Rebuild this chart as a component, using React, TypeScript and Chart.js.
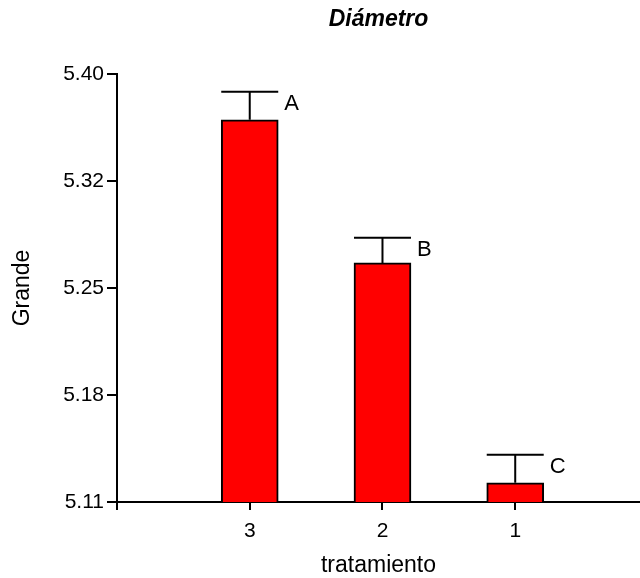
import React, { useEffect, useRef } from 'react';
import { Chart, registerables } from 'chart.js';

Chart.register(...registerables);

const categories = ['3', '2', '1'];
const categoryPositions = [1, 2, 3];
const means = [5.369, 5.272, 5.123];
const errors = [0.019, 0.017, 0.019];
const letters = ['A', 'B', 'C'];
const yTickValues = [5.11, 5.1825, 5.255, 5.3275, 5.4];
const yTickLabels = ['5.11', '5.18', '5.25', '5.32', '5.40'];
const titleText = 'Diámetro';
const yTitle = 'Grande';
const xTitle = 'tratamiento';

const FAMILY = '"Liberation Sans", Arial, Helvetica, sans-serif';

const errorBarPlugin = {
  id: 'errorBars',
  afterDatasetsDraw(chart: any) {
    const meta = chart.getDatasetMeta(0);
    const yScale = chart.scales.y;
    const ctx = chart.ctx;
    ctx.save();
    ctx.strokeStyle = '#000';
    ctx.lineWidth = 2;
    meta.data.forEach((el: any, i: number) => {
      const { x, y, width } = el.getProps(['x', 'y', 'width'], true);
      const capY = yScale.getPixelForValue(means[i] + errors[i]);
      ctx.beginPath();
      ctx.moveTo(x, y);
      ctx.lineTo(x, capY);
      ctx.moveTo(x - width / 2, capY);
      ctx.lineTo(x + width / 2, capY);
      ctx.stroke();
      ctx.fillStyle = '#000';
      ctx.font = '22px ' + FAMILY;
      ctx.textAlign = 'left';
      ctx.textBaseline = 'middle';
      ctx.fillText(letters[i], x + width / 2 + 6, capY + 12);
    });
    ctx.restore();
  },
};

export default function App() {
  const canvasRef = useRef<HTMLCanvasElement | null>(null);

  useEffect(() => {
    if (!canvasRef.current) return;
    const tickFont = { family: FAMILY, size: 21 };
    const axisTitleFont = { family: FAMILY, size: 23 };
    const chart = new Chart(canvasRef.current, {
      type: 'bar',
      data: {
        datasets: [
          {
            data: categoryPositions.map((p, i) => ({ x: p, y: means[i] })),
            backgroundColor: '#ff0000',
            borderColor: '#000000',
            borderWidth: 2,
            borderSkipped: false,
            barThickness: 57,
          },
        ],
      },
      options: {
        responsive: false,
        animation: false,
        layout: { padding: 0 },
        plugins: {
          legend: { display: false },
          tooltip: { enabled: false },
          title: {
            display: true,
            text: titleText,
            fullSize: false,
            color: '#000',
            font: { family: FAMILY, size: 23, weight: 'bold', style: 'italic' },
            padding: { top: 6, bottom: 40.4 },
          },
        },
        scales: {
          x: {
            type: 'linear',
            min: 0,
            max: 3.94,
            offset: false,
            afterBuildTicks: (s: any) => {
              s.ticks = [0, ...categoryPositions].map((v) => ({ value: v }));
            },
            afterFit: (s: any) => {
              s.height = 76;
            },
            ticks: {
              callback: (v: any) => {
                const idx = categoryPositions.indexOf(v);
                return idx >= 0 ? categories[idx] : '';
              },
              font: tickFont,
              color: '#000',
              padding: 9,
              autoSkip: false,
              maxRotation: 0,
            },
            grid: {
              offset: false,
              drawOnChartArea: false,
              drawTicks: true,
              tickLength: 8,
              color: '#000',
              lineWidth: 2,
            },
            border: { display: true, color: '#000', width: 2 },
            title: {
              display: true,
              text: xTitle,
              font: axisTitleFont,
              color: '#000',
              padding: { top: 0, bottom: -1 },
            },
          },
          y: {
            type: 'linear',
            min: 5.11,
            max: 5.4,
            afterBuildTicks: (s: any) => {
              s.ticks = yTickValues.map((v) => ({ value: v }));
            },
            afterFit: (s: any) => {
              s.width = 117;
            },
            ticks: {
              callback: (_v: any, i: number) => yTickLabels[i],
              font: tickFont,
              color: '#000',
              padding: 3,
              autoSkip: false,
            },
            grid: {
              drawOnChartArea: false,
              drawTicks: true,
              tickLength: 10,
              color: '#000',
              lineWidth: 2,
            },
            border: { display: true, color: '#000', width: 2 },
            title: {
              display: true,
              text: yTitle,
              font: axisTitleFont,
              color: '#000',
              padding: { top: 9, bottom: 0 },
            },
          },
        },
      } as any,
      plugins: [errorBarPlugin],
    });
    return () => chart.destroy();
  }, []);

  return (
    <div style={{ position: 'fixed', left: 0, top: 0, width: 640, height: 578, background: '#fff' }}>
      <canvas ref={canvasRef} width={640} height={578} />
    </div>
  );
}
